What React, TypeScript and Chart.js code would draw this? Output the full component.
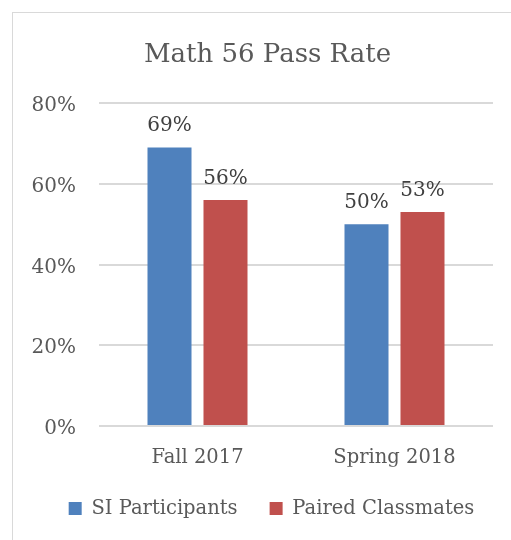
import React, { useEffect, useRef } from "react";
import { Chart, registerables } from "chart.js";

Chart.register(...registerables);

const titleText = "Math 56 Pass Rate";
const categories = ["Fall 2017", "Spring 2018"];
const seriesNames = ["SI Participants", "Paired Classmates"];
const siParticipants = [69, 50];
const pairedClassmates = [56, 53];
const yTicks = [0, 20, 40, 60, 80];

const FONT = '"DejaVu Serif", "Liberation Serif", serif';
const TEXT = "#595959";
const LABEL = "#404040";
const GRID = "#d9d9d9";
const BLUE = "#4F81BD";
const RED = "#C0504D";

const dataLabelPlugin = {
  id: "dataLabels",
  afterLayout(chart: any) {
    const l = chart.legend;
    if (l) {
      l.left += 4;
      l.right += 4;
    }
  },
  afterDatasetsDraw(chart: any) {
    const ctx = chart.ctx;
    ctx.save();
    ctx.font = `20px ${FONT}`;
    ctx.fillStyle = LABEL;
    ctx.textAlign = "center";
    ctx.textBaseline = "alphabetic";
    chart.data.datasets.forEach((ds: any, i: number) => {
      const meta = chart.getDatasetMeta(i);
      meta.data.forEach((el: any, j: number) => {
        ctx.fillText(ds.data[j] + "%", el.x, el.y - 16);
      });
    });
    ctx.restore();
  },
};

export default function App() {
  const ref = useRef<HTMLCanvasElement | null>(null);

  useEffect(() => {
    if (!ref.current) return;
    const chart = new Chart(ref.current, {
      type: "bar",
      data: {
        labels: categories,
        datasets: [
          {
            label: seriesNames[0],
            data: siParticipants,
            backgroundColor: BLUE,
            barPercentage: 0.786,
            categoryPercentage: 0.5685,
          },
          {
            label: seriesNames[1],
            data: pairedClassmates,
            backgroundColor: RED,
            barPercentage: 0.786,
            categoryPercentage: 0.5685,
          },
        ],
      },
      options: {
        responsive: false,
        animation: false,
        devicePixelRatio: 1,
        layout: { padding: { left: 0, right: 0, top: 0, bottom: 11.75 } },
        plugins: {
          title: {
            display: true,
            text: titleText,
            color: TEXT,
            font: { family: FONT, size: 26, weight: "normal" },
            padding: { top: 26.2, bottom: 32.6 },
          },
          legend: {
            display: true,
            position: "bottom",
            labels: {
              boxWidth: 13,
              boxHeight: 13,
              padding: 32,
              color: TEXT,
              font: { family: FONT, size: 19.5 },
            },
          },
          tooltip: { enabled: false },
        },
        scales: {
          x: {
            grid: { display: false, drawTicks: false },
            border: { display: false },
            ticks: {
              color: TEXT,
              font: { family: FONT, size: 19.5 },
              padding: 20.4,
            },
            afterFit(s: any) {
              s.height = 40.75;
            },
          },
          y: {
            min: 0,
            max: 80,
            afterBuildTicks(s: any) {
              s.ticks = yTicks.map((v) => ({ value: v }));
            },
            grid: { color: GRID, lineWidth: 2, drawTicks: false },
            border: { display: false },
            ticks: {
              color: TEXT,
              font: { family: FONT, size: 20, lineHeight: 0.3 },
              padding: 23,
              callback: (v: any) => ["", v + "%"],
            },
            afterFit(s: any) {
              s.width = 86;
            },
          },
          yRight: {
            type: "linear",
            position: "right",
            display: true,
            grid: { display: false, drawTicks: false },
            border: { display: false },
            ticks: { display: false },
            afterFit(s: any) {
              s.width = 29;
            },
          },
        },
      },
      plugins: [dataLabelPlugin],
    } as any);
    return () => chart.destroy();
  }, []);

  return (
    <div
      style={{
        position: "fixed",
        left: 0,
        top: 0,
        width: 511,
        height: 540,
        overflow: "hidden",
        background: "#fff",
      }}
    >
      <div
        style={{
          position: "absolute",
          left: 12,
          top: 12,
          width: 509,
          height: 527,
          border: `1px solid ${GRID}`,
        }}
      >
        <canvas
          ref={ref}
          width={509}
          height={527}
          style={{ display: "block", width: 509, height: 527 }}
        />
      </div>
    </div>
  );
}
